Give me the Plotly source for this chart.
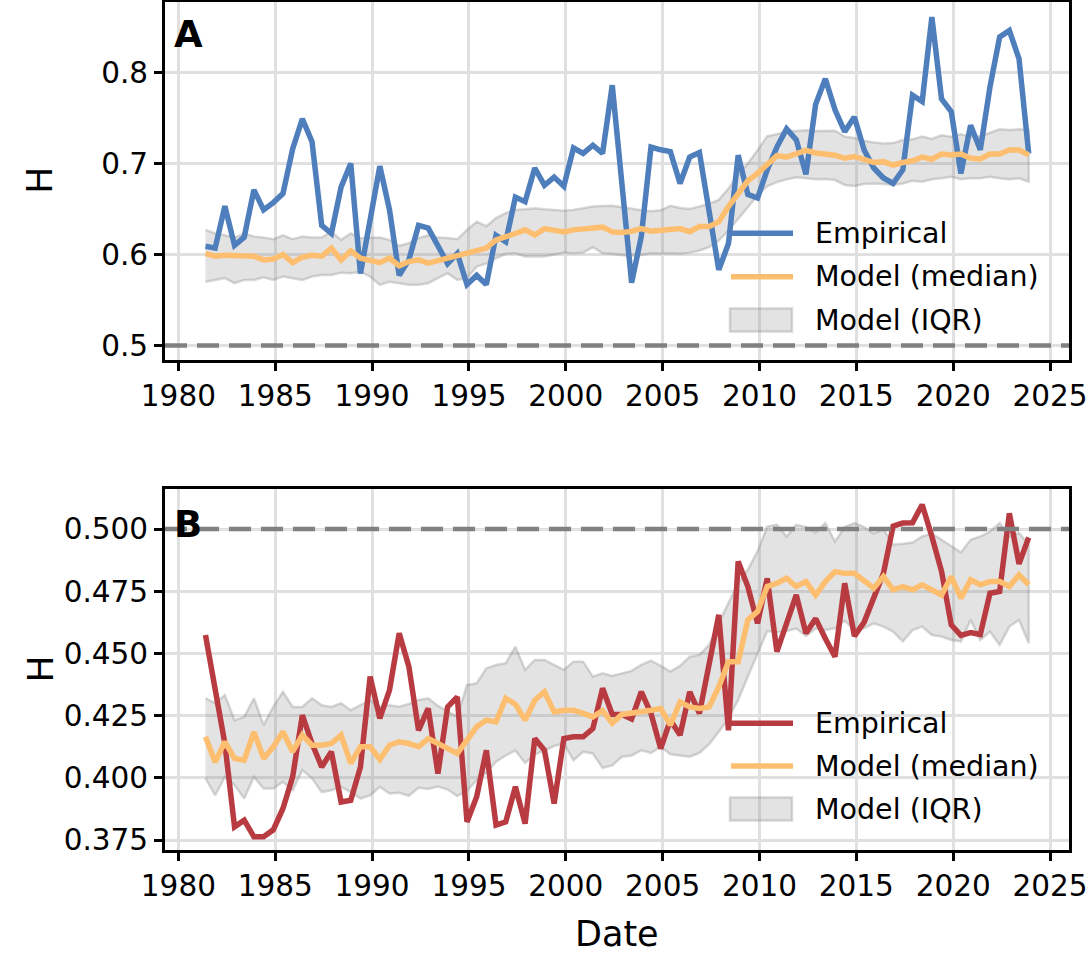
import plotly.graph_objects as go

# ---------------- data ----------------
dates = [1981.4, 1981.9, 1982.4, 1982.9, 1983.4, 1983.9, 1984.4, 1984.9, 1985.4, 1985.9,
         1986.4, 1986.9, 1987.4, 1987.9, 1988.4, 1988.9, 1989.4, 1989.9, 1990.4, 1990.9,
         1991.4, 1991.9, 1992.4, 1992.9, 1993.4, 1993.9, 1994.4, 1994.9, 1995.4, 1995.9,
         1996.4, 1996.9, 1997.4, 1997.9, 1998.4, 1998.9, 1999.4, 1999.9, 2000.4, 2000.9,
         2001.4, 2001.9, 2002.4, 2002.9, 2003.4, 2003.9, 2004.4, 2004.9, 2005.4, 2005.9,
         2006.4, 2006.9, 2007.4, 2007.9, 2008.4, 2008.9, 2009.4, 2009.9, 2010.4, 2010.9,
         2011.4, 2011.9, 2012.4, 2012.9, 2013.4, 2013.9, 2014.4, 2014.9, 2015.4, 2015.9,
         2016.4, 2016.9, 2017.4, 2017.9, 2018.4, 2018.9, 2019.4, 2019.9, 2020.4, 2020.9,
         2021.4, 2021.9, 2022.4, 2022.9, 2023.4, 2023.9]

empirical_A = [0.609, 0.607, 0.653, 0.610, 0.619, 0.671, 0.649, 0.657, 0.667, 0.716,
               0.749, 0.724, 0.632, 0.623, 0.674, 0.700, 0.579, 0.636, 0.697, 0.649,
               0.577, 0.594, 0.632, 0.629, 0.610, 0.590, 0.601, 0.567, 0.577, 0.567,
               0.621, 0.614, 0.663, 0.658, 0.695, 0.676, 0.685, 0.675, 0.717, 0.711,
               0.720, 0.711, 0.786, 0.678, 0.569, 0.620, 0.718, 0.715, 0.713, 0.678,
               0.707, 0.712, 0.647, 0.583, 0.612, 0.709, 0.666, 0.662, 0.693, 0.718,
               0.738, 0.726, 0.688, 0.765, 0.793, 0.759, 0.735, 0.751, 0.715, 0.695,
               0.684, 0.678, 0.693, 0.775, 0.768, 0.861, 0.771, 0.757, 0.689, 0.742,
               0.715, 0.784, 0.839, 0.846, 0.815, 0.711]

median_A = [0.601, 0.598, 0.599, 0.599, 0.5985, 0.598, 0.594, 0.595, 0.600, 0.591,
            0.597, 0.599, 0.598, 0.607, 0.594, 0.604, 0.596, 0.593, 0.591, 0.596,
            0.5875, 0.5922, 0.594, 0.5904, 0.5933, 0.5948, 0.5984, 0.6014, 0.605, 0.607,
            0.616, 0.619, 0.623, 0.627, 0.6214, 0.6284, 0.627, 0.6247, 0.627, 0.6277,
            0.6295, 0.630, 0.6248, 0.624, 0.6255, 0.6285, 0.6255, 0.626, 0.627, 0.6285,
            0.625, 0.6306, 0.6306, 0.636, 0.6526, 0.667, 0.681, 0.689, 0.6995, 0.7086,
            0.707, 0.711, 0.7145, 0.7115, 0.7104, 0.709, 0.7057, 0.7075, 0.7046, 0.701,
            0.702, 0.6983, 0.701, 0.703, 0.707, 0.7046, 0.7104, 0.7094, 0.7104, 0.7057,
            0.705, 0.7104, 0.7104, 0.7148, 0.7148, 0.7094]

q75_A = [0.627, 0.623, 0.621, 0.6185, 0.623, 0.6197, 0.6185, 0.6167, 0.621, 0.6167,
         0.6197, 0.6185, 0.6185, 0.625, 0.616, 0.623, 0.618, 0.6185, 0.6185, 0.616,
         0.6095, 0.6125, 0.618, 0.621, 0.6185, 0.618, 0.6167, 0.627, 0.636, 0.631,
         0.640, 0.6453, 0.649, 0.6496, 0.6508, 0.6496, 0.649, 0.648, 0.649, 0.6508,
         0.6526, 0.6533, 0.6535, 0.6518, 0.650, 0.6485, 0.6475, 0.6485, 0.6535, 0.651,
         0.650, 0.653, 0.6556, 0.660, 0.6725, 0.6875, 0.700, 0.7145, 0.730, 0.732,
         0.7357, 0.7357, 0.7365, 0.7357, 0.736, 0.736, 0.7295, 0.728, 0.725, 0.723,
         0.722, 0.7224, 0.7258, 0.7265, 0.7295, 0.727, 0.731, 0.7295, 0.732, 0.7295,
         0.730, 0.734, 0.7375, 0.7368, 0.7375, 0.7368]

q25_A = [0.570, 0.572, 0.574, 0.5684, 0.572, 0.572, 0.575, 0.572, 0.5757, 0.574,
         0.572, 0.5757, 0.5775, 0.5775, 0.580, 0.5794, 0.581, 0.5757, 0.5666, 0.570,
         0.5684, 0.5666, 0.5666, 0.5684, 0.574, 0.5794, 0.572, 0.574, 0.5867, 0.590,
         0.5958, 0.6007, 0.6014, 0.5977, 0.5977, 0.5977, 0.5995, 0.602, 0.6014, 0.602,
         0.608, 0.6014, 0.6007, 0.599, 0.5985, 0.5995, 0.6014, 0.6007, 0.6014, 0.6007,
         0.602, 0.6043, 0.608, 0.6153, 0.6263, 0.6387, 0.6518, 0.665, 0.675, 0.6795,
         0.6825, 0.6847, 0.6837, 0.6826, 0.683, 0.6818, 0.6764, 0.6752, 0.6774, 0.678,
         0.6774, 0.6764, 0.678, 0.681, 0.680, 0.6826, 0.6837, 0.6855, 0.6826, 0.6837,
         0.6837, 0.6855, 0.6837, 0.6826, 0.6837, 0.680]

empirical_B = [0.4574, 0.4353, 0.4138, 0.3803, 0.3830, 0.3763, 0.3763, 0.3791, 0.3877, 0.4004,
               0.4252, 0.4138, 0.4044, 0.4105, 0.3903, 0.3910, 0.4044, 0.4407, 0.4239, 0.4353,
               0.4581, 0.4447, 0.4191, 0.4279, 0.4017, 0.4285, 0.4325, 0.3823, 0.3924, 0.4111,
               0.3810, 0.3823, 0.3964, 0.3816, 0.4158, 0.4111, 0.3897, 0.4158, 0.4165, 0.4165,
               0.4198, 0.4360, 0.4255, 0.4255, 0.4237, 0.4346, 0.4259, 0.4118, 0.4232, 0.4172,
               0.4346, 0.4259, 0.4467, 0.4655, 0.4191, 0.4870, 0.4769, 0.4621, 0.4802, 0.4507,
               0.4621, 0.4735, 0.4581, 0.4640, 0.4560, 0.4487, 0.4782, 0.4570, 0.4625, 0.4720,
               0.4822, 0.5012, 0.5024, 0.5025, 0.5098, 0.4970, 0.4830, 0.4615, 0.4573, 0.4584,
               0.4576, 0.4742, 0.4749, 0.5063, 0.4860, 0.4966]

median_B = [0.4165, 0.4063, 0.4145, 0.4078, 0.4071, 0.4185, 0.4078, 0.4125, 0.4185, 0.4105,
            0.4172, 0.4131, 0.4131, 0.4138, 0.4172, 0.4058, 0.4125, 0.4125, 0.4074, 0.4131,
            0.4145, 0.4138, 0.4125, 0.4158, 0.4138, 0.4118, 0.4098, 0.4152, 0.4205, 0.4232,
            0.4225, 0.4320, 0.4296, 0.4232, 0.4312, 0.4346, 0.4265, 0.4272, 0.4272, 0.4259,
            0.4245, 0.4270, 0.4220, 0.4255, 0.4259, 0.4266, 0.4272, 0.4279, 0.4212, 0.4305,
            0.4285, 0.4279, 0.4285, 0.4366, 0.4467, 0.4467, 0.4635, 0.4668, 0.4769, 0.4782,
            0.4802, 0.4769, 0.4789, 0.4735, 0.4789, 0.4829, 0.4822, 0.4822, 0.4789, 0.4762,
            0.4809, 0.4756, 0.4769, 0.4756, 0.4776, 0.4756, 0.4735, 0.4809, 0.4722, 0.4796,
            0.4776, 0.4789, 0.4789, 0.4769, 0.4816, 0.4776]

q75_B = [0.4320, 0.4300, 0.4333, 0.4232, 0.4245, 0.4320, 0.4212, 0.4285, 0.4346, 0.4285,
         0.4285, 0.4320, 0.4292, 0.4285, 0.4300, 0.4272, 0.4292, 0.4312, 0.4285, 0.4292,
         0.4286, 0.4297, 0.4313, 0.4320, 0.4289, 0.4266, 0.4246, 0.4373, 0.4380, 0.4440,
         0.4454, 0.4461, 0.4527, 0.4434, 0.4474, 0.4474, 0.4454, 0.4434, 0.4467, 0.4467,
         0.4407, 0.4420, 0.4410, 0.4420, 0.4430, 0.4454, 0.4471, 0.4450, 0.4427, 0.4450,
         0.4487, 0.4494, 0.4534, 0.4622, 0.4702, 0.4783, 0.4836, 0.4910, 0.5010, 0.5017,
         0.4970, 0.5017, 0.5008, 0.4985, 0.5024, 0.4950, 0.5008, 0.5024, 0.5008, 0.4982,
         0.5000, 0.4937, 0.4941, 0.4946, 0.4970, 0.4982, 0.4957, 0.4933, 0.4906, 0.4957,
         0.4970, 0.4990, 0.5024, 0.4970, 0.4984, 0.4937]

q25_B = [0.3998, 0.3930, 0.4004, 0.3971, 0.3917, 0.4004, 0.3957, 0.3957, 0.3984, 0.3950,
         0.4031, 0.3998, 0.3943, 0.3950, 0.3964, 0.3943, 0.3917, 0.3930, 0.3964, 0.3937,
         0.3940, 0.3928, 0.3960, 0.3955, 0.3965, 0.3953, 0.3927, 0.3948, 0.3991, 0.4020,
         0.4065, 0.4090, 0.4110, 0.4060, 0.4095, 0.4110, 0.4128, 0.4138, 0.4071, 0.4105,
         0.4098, 0.4040, 0.4050, 0.4085, 0.4090, 0.4111, 0.4100, 0.4125, 0.4095, 0.4090,
         0.4085, 0.4100, 0.4135, 0.4185, 0.4240, 0.4313, 0.4407, 0.4501, 0.4590, 0.4585,
         0.4590, 0.4600, 0.4570, 0.4600, 0.4594, 0.4601, 0.4632, 0.4594, 0.4601, 0.4621,
         0.4608, 0.4588, 0.4548, 0.4594, 0.4608, 0.4574, 0.4568, 0.4554, 0.4548, 0.4635,
         0.4554, 0.4588, 0.4534, 0.4608, 0.4635, 0.4541]

reference_H = 0.5
x_ticks = [1980, 1985, 1990, 1995, 2000, 2005, 2010, 2015, 2020, 2025]
y_ticks_A = [0.5, 0.6, 0.7, 0.8]
y_ticks_B = [0.375, 0.400, 0.425, 0.450, 0.475, 0.500]
legend_labels = ["Empirical", "Model (median)", "Model (IQR)"]

# ---------------- style ----------------
W, H = 1087, 955
BLUE = "rgb(78,126,187)"
RED = "rgb(185,59,66)"
ORANGE = "#fdbf6f"
BAND_FILL = "rgba(128,128,128,0.22)"
BAND_EDGE = "rgba(128,128,128,0.30)"
FONT = "DejaVu Sans"
TICK_SIZE = 29.5
LW = 5.5

x_left, x_right = 165, 1069
A_top, A_bot = 1.5, 360
B_top, B_bot = 489, 850


def px_x(p):
    return p / W


def px_y(p):
    return 1 - p / H


fig = go.Figure()


def add_panel(xa, ya, emp, med, q25, q75, color):
    fig.add_trace(go.Scatter(
        x=dates + dates[::-1], y=q75 + q25[::-1], fill="toself",
        fillcolor=BAND_FILL, line=dict(color=BAND_EDGE, width=2.5),
        mode="lines", showlegend=False, hoverinfo="skip", xaxis=xa, yaxis=ya,
        name=legend_labels[2]))
    fig.add_trace(go.Scatter(
        x=dates, y=emp, mode="lines", line=dict(color=color, width=LW),
        showlegend=False, xaxis=xa, yaxis=ya, name=legend_labels[0]))
    fig.add_trace(go.Scatter(
        x=dates, y=med, mode="lines", line=dict(color=ORANGE, width=LW),
        showlegend=False, xaxis=xa, yaxis=ya, name=legend_labels[1]))


add_panel("x", "y", empirical_A, median_A, q25_A, q75_A, BLUE)
add_panel("x2", "y2", empirical_B, median_B, q25_B, q75_B, RED)

axis_common = dict(
    showline=True, linecolor="black", linewidth=3, mirror=True,
    ticks="outside", ticklen=8, tickwidth=2.6, tickcolor="black",
    showgrid=True, gridcolor="#e0e0e0", gridwidth=2.5,
    zeroline=False, automargin=False, ticklabeloverflow="allow",
    tickfont=dict(family=FONT, size=TICK_SIZE, color="black"),
)

x_range = [1979.31, 2025.98]
fig.update_layout(
    width=W, height=H, margin=dict(l=0, r=0, t=0, b=0, autoexpand=False),
    paper_bgcolor="white", plot_bgcolor="white", showlegend=False,
    xaxis=dict(axis_common, domain=[px_x(x_left), px_x(x_right)], range=x_range,
               tickvals=x_ticks, anchor="y"),
    yaxis=dict(axis_common, domain=[px_y(A_bot), px_y(A_top)], range=[0.484, 0.878],
               tickvals=y_ticks_A, tickformat=".1f", anchor="x"),
    xaxis2=dict(axis_common, domain=[px_x(x_left), px_x(x_right)], range=x_range,
                tickvals=x_ticks, anchor="y2"),
    yaxis2=dict(axis_common, domain=[px_y(B_bot), px_y(B_top)], range=[0.371, 0.5161],
                tickvals=y_ticks_B, tickformat=".3f", anchor="x2"),
)

shapes = []
for xr, yr in (("x domain", "y"), ("x2 domain", "y2")):
    shapes.append(dict(type="line", xref=xr, yref=yr, x0=0, x1=1,
                       y0=reference_H, y1=reference_H, layer="above",
                       line=dict(color="#808080", width=4.5, dash="22px,10px")))

annotations = []
# panel letters
for letter, yc in (("A", 34), ("B", 524)):
    annotations.append(dict(text=f"<b>{letter}</b>", x=px_x(172), y=px_y(yc),
                            xref="paper", yref="paper", xanchor="left", yanchor="middle",
                            showarrow=False, font=dict(family=FONT, size=37, color="black")))
# y labels
for yc in ((A_top + A_bot) / 2, (B_top + B_bot) / 2):
    annotations.append(dict(text="H", x=px_x(40), y=px_y(yc), xref="paper", yref="paper",
                            xanchor="center", yanchor="middle", textangle=-90, showarrow=False,
                            font=dict(family=FONT, size=36, color="black")))
annotations.append(dict(text="Date", x=px_x((x_left + x_right) / 2), y=0,
                        xref="paper", yref="paper", xanchor="center", yanchor="bottom",
                        showarrow=False, borderpad=0,
                        font=dict(family=FONT, size=35, color="black")))

# custom legends (one per panel)
for color, rows in ((BLUE, (233.3, 276.7, 320)), (RED, (723.3, 766, 809))):
    shapes.append(dict(type="line", xref="paper", yref="paper", x0=px_x(731), x1=px_x(793),
                       y0=px_y(rows[0]), y1=px_y(rows[0]), line=dict(color=color, width=LW)))
    shapes.append(dict(type="line", xref="paper", yref="paper", x0=px_x(731), x1=px_x(793),
                       y0=px_y(rows[1]), y1=px_y(rows[1]), line=dict(color=ORANGE, width=LW)))
    shapes.append(dict(type="rect", xref="paper", yref="paper", x0=px_x(730), x1=px_x(792),
                       y0=px_y(rows[2] - 11.5), y1=px_y(rows[2] + 11.5),
                       fillcolor=BAND_FILL, line=dict(color=BAND_EDGE, width=2.5)))
    for label, yc in zip(legend_labels, rows):
        annotations.append(dict(text=label, x=px_x(813), y=px_y(yc), xref="paper", yref="paper",
                                xanchor="left", yanchor="middle", showarrow=False,
                                font=dict(family=FONT, size=28.5, color="black")))

fig.update_layout(shapes=shapes, annotations=annotations)
fig.write_html("out.html")
